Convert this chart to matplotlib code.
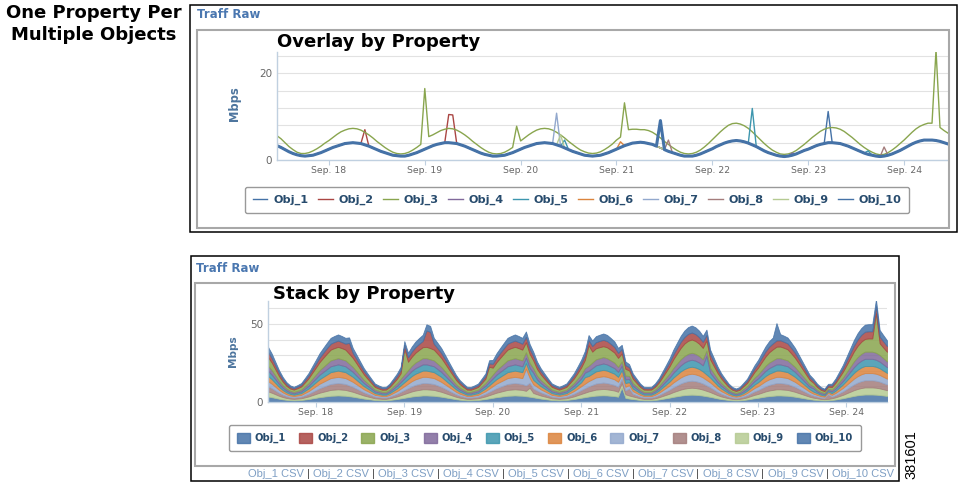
import numpy as np
import matplotlib.pyplot as plt
import matplotlib.dates as mdates
from matplotlib.lines import Line2D
from matplotlib.patches import Rectangle, Patch

W, H = 959, 482

names = ['Obj_1', 'Obj_2', 'Obj_3', 'Obj_4', 'Obj_5',
         'Obj_6', 'Obj_7', 'Obj_8', 'Obj_9', 'Obj_10']
colors = ['#4572A7', '#AA4643', '#89A54E', '#80699B', '#3D96AE',
          '#DB843D', '#92A8CD', '#A47D7C', '#B5CA92', '#4572A7']

# hourly samples, Sep 17 11:00 .. Sep 24 11:00
times = np.arange(np.datetime64('2013-09-17T11'), np.datetime64('2013-09-24T12'),
                  np.timedelta64(1, 'h'))

# Obj_3 (the upper green curve), one row per day
obj3 = (
    [5.6, 4.9, 4.0, 3.1, 2.4, 1.8, 1.5, 1.5, 1.7, 2.1, 2.6, 3.2, 3.9]
    + [4.5, 5.2, 5.9, 6.5, 6.9, 7.2, 7.3, 7.2, 6.9, 6.4, 5.8, 5.1, 4.3, 3.6, 2.9, 2.3, 1.8, 1.5, 1.4, 1.5, 1.8, 2.3, 2.9, 3.6]
    + [16.5, 5.4, 5.8, 6.3, 6.8, 7.1, 7.3, 7.2, 6.9, 6.4, 5.8, 5.1, 4.3, 3.6, 2.9, 2.3, 1.8, 1.5, 1.4, 1.5, 1.8, 2.3, 2.9, 7.8]
    + [4.4, 5.1, 5.8, 6.4, 6.9, 7.2, 7.3, 7.2, 6.9, 6.4, 5.8, 5.1, 4.3, 3.6, 2.9, 2.3, 1.9, 1.6, 1.5, 1.6, 1.9, 2.4, 3.0, 3.7]
    + [4.6, 5.3, 13.2, 7.0, 7.1, 7.1, 7.0, 7.0, 6.8, 6.4, 5.8, 5.1, 4.3, 3.6, 2.9, 2.3, 1.8, 1.5, 1.4, 1.5, 1.8, 2.3, 3.0, 3.8]
    + [4.7, 5.6, 6.5, 7.3, 8.0, 8.4, 8.5, 8.3, 7.9, 7.3, 6.5, 5.6, 4.7, 3.8, 3.0, 2.3, 1.8, 1.4, 1.3, 1.4, 1.7, 2.2, 2.9, 3.6]
    + [4.4, 5.2, 5.9, 6.6, 7.1, 7.4, 7.5, 7.4, 7.1, 6.6, 5.9, 5.2, 4.4, 3.6, 2.9, 2.3, 1.8, 1.4, 1.2, 1.3, 1.7, 2.3, 3.0, 3.8]
    + [4.6, 5.5, 6.4, 7.2, 7.8, 8.2, 8.5, 8.5, 25.4, 7.5, 6.8, 6.2]
)

# the lower curve shared by all the other objects
base = (
    [3.3, 2.9, 2.4, 1.9, 1.5, 1.2, 1.0, 0.9, 1.0, 1.1, 1.4, 1.7, 2.1]
    + [2.5, 2.9, 3.2, 3.5, 3.8, 3.9, 4.0, 3.9, 3.8, 3.5, 3.2, 2.8, 2.4, 2.0, 1.7, 1.4, 1.1, 1.0, 0.9, 0.9, 1.1, 1.4, 1.7, 2.1]
    + [2.5, 2.9, 3.3, 3.6, 3.8, 4.0, 4.0, 3.9, 3.8, 3.5, 3.2, 2.8, 2.4, 2.0, 1.6, 1.3, 1.1, 0.9, 0.9, 1.0, 1.1, 1.4, 1.7, 2.1]
    + [2.5, 2.9, 3.2, 3.5, 3.8, 3.9, 4.0, 3.9, 3.8, 3.5, 3.2, 2.8, 2.4, 2.0, 1.7, 1.4, 1.1, 1.0, 0.9, 1.0, 1.1, 1.4, 1.7, 2.1]
    + [2.5, 2.9, 3.3, 3.6, 3.9, 4.0, 4.1, 4.0, 3.8, 3.6, 3.2, 2.8, 2.4, 2.0, 1.7, 1.4, 1.1, 0.9, 0.9, 0.9, 1.1, 1.4, 1.8, 2.2]
    + [2.6, 3.1, 3.5, 3.9, 4.2, 4.4, 4.5, 4.4, 4.2, 3.9, 3.5, 3.1, 2.6, 2.1, 1.7, 1.4, 1.1, 0.9, 0.8, 0.9, 1.1, 1.4, 1.8, 2.2]
    + [2.5, 2.9, 3.3, 3.6, 3.8, 4.0, 4.0, 3.9, 3.8, 3.5, 3.2, 2.8, 2.4, 2.0, 1.6, 1.3, 1.1, 0.9, 0.8, 0.9, 1.1, 1.4, 1.8, 2.2]
    + [2.7, 3.2, 3.7, 4.1, 4.4, 4.6, 4.6, 4.6, 4.5, 4.3, 4.0, 3.7]
)

# short spikes of single objects
spikes = {
    'Obj_1': [('2013-09-23T05', 11.2)],
    'Obj_2': [('2013-09-18T09', 7.0), ('2013-09-19T06', 10.5), ('2013-09-19T07', 10.4)],
    'Obj_4': [('2013-09-22T20', 1.6)],
    'Obj_5': [('2013-09-20T11', 4.6), ('2013-09-22T10', 11.9), ('2013-09-23T15', 2.1)],
    'Obj_6': [('2013-09-21T01', 4.2)],
    'Obj_7': [('2013-09-20T09', 10.8)],
    'Obj_8': [('2013-09-21T13', 4.6), ('2013-09-23T19', 3.0)],
    'Obj_9': [('2013-09-20T10', 5.8)],
    'Obj_10': [('2013-09-21T11', 9.1)],
}

series = {}
for name in names:
    vals = np.array(obj3 if name == 'Obj_3' else base, dtype=float)
    for t, v in spikes.get(name, []):
        vals[times == np.datetime64(t)] = v
    series[name] = vals


def fx(x):
    return x / W


def fy(y):
    return 1 - y / H


fig = plt.figure(figsize=(W / 100, H / 100), dpi=100)


def frame(x0, y0, x1, y1, color, lw):
    fig.add_artist(Rectangle((fx(x0), fy(y1)), (x1 - x0) / W, (y1 - y0) / H,
                             transform=fig.transFigure, fill=False,
                             edgecolor=color, lw=lw))


frame(190, 5, 957, 232, 'black', 1.1)
frame(197, 30, 949, 228, '#a8a8a8', 1.5)
frame(191, 256, 899, 481, 'black', 1.1)
frame(195, 283, 895, 466, '#a8a8a8', 1.5)

fig.text(fx(94), fy(4), 'One Property Per\nMultiple Objects', ha='center', va='top',
         fontsize=13, weight='bold', linespacing=1.32, family='DejaVu Sans')
fig.text(fx(197), fy(15), 'Traff Raw', va='center', fontsize=8.5, weight='bold', color='#4a77b0')
fig.text(fx(196), fy(268), 'Traff Raw', va='center', fontsize=8.5, weight='bold', color='#4a77b0')
fig.text(fx(277), fy(42), 'Overlay by Property', va='center', fontsize=13, weight='bold')
fig.text(fx(273), fy(294), 'Stack by Property', va='center', fontsize=13, weight='bold')
fig.text(fx(911), fy(455), '381601', rotation=90, ha='center', va='center',
         fontsize=10.5, family='Liberation Sans')


def style(ax, ymax, step, labels, lab_xy, lab_size):
    ax.set_xlim(times[0], times[-1])
    ax.set_ylim(0, ymax)
    ax.set_yticks(np.arange(0, ymax, step))
    ax.set_yticklabels(labels)
    ax.xaxis.set_major_locator(mdates.DayLocator())
    ax.xaxis.set_major_formatter(mdates.DateFormatter('%b. %d'))
    for s in ['top', 'right']:
        ax.spines[s].set_visible(False)
    for s in ['bottom', 'left']:
        ax.spines[s].set_color('#C0D0E0')
        ax.spines[s].set_linewidth(1)
    ax.yaxis.grid(True, color='#e2e2e2', lw=0.8)
    ax.set_axisbelow(True)
    ax.tick_params(axis='x', length=3.6, width=0.8, color='#C0D0E0', pad=0.8,
                   labelsize=6.7, labelcolor='#666666')
    ax.tick_params(axis='y', length=0, pad=3.6, labelsize=7.5, labelcolor='#666666')
    ax.set_ylabel('Mbps', fontsize=lab_size, weight='bold', color='#4d759e')
    ax.yaxis.set_label_coords(*lab_xy)


# overlay chart
ax1 = fig.add_axes([fx(277), fy(160), 671 / W, 108.3 / H])
for name, c in zip(names, colors):
    ax1.plot(times, series[name], color=c, lw=2.2 if name == 'Obj_10' else 1.0)
style(ax1, 25, 4, ['0', '', '', '', '', '20', ''], (-0.054, 0.517), 8.3)
handles = [Line2D([], [], color=c, lw=1) for c in colors]
leg1 = ax1.legend(handles, names, ncol=10, loc='center', bbox_to_anchor=(fx(577), fy(200)),
                  bbox_transform=fig.transFigure, prop={'weight': 'bold', 'size': 8.1},
                  labelcolor='#274b6d', handlelength=1.33, handletextpad=0.53,
                  columnspacing=0.8, borderpad=0.68, fancybox=True, edgecolor='#999999',
                  framealpha=1)
leg1.get_frame().set_linewidth(1.0)

# stacked chart
ax2 = fig.add_axes([fx(268), fy(401.7), 619 / W, 101 / H])
polys = ax2.stackplot(times, *[series[n] for n in names[::-1]], colors=colors[::-1],
                      alpha=0.85, lw=0.6)
for p, c in zip(polys, colors[::-1]):
    p.set_edgecolor(c)
style(ax2, 65, 10, ['0', '', '', '', '', '50', ''], (-0.0485, 0.502), 7.6)
handles = [Patch(facecolor=c, edgecolor=c, alpha=0.85) for c in colors]
leg2 = ax2.legend(handles, names, ncol=10, loc='center', bbox_to_anchor=(fx(545), fy(438)),
                  bbox_transform=fig.transFigure, prop={'weight': 'bold', 'size': 7.2},
                  labelcolor='#274b6d', handlelength=1.3, handleheight=1.15,
                  handletextpad=0.5, columnspacing=1.3, borderpad=0.75, fancybox=True,
                  edgecolor='#999999', framealpha=1)
leg2.get_frame().set_linewidth(1.0)

# csv links under the stacked chart
renderer = fig.canvas.get_renderer()
x = fx(248)
for i, name in enumerate(names):
    t = fig.text(x, fy(474), name + ' CSV', va='center', fontsize=8,
                 family='Liberation Sans', color='#7f9fc4')
    x += t.get_window_extent(renderer).width / W
    if i < len(names) - 1:
        t = fig.text(x, fy(474), ' | ', va='center', fontsize=8,
                     family='Liberation Sans', color='#444444')
        x += t.get_window_extent(renderer).width / W

fig.savefig('out.png', dpi=100)
